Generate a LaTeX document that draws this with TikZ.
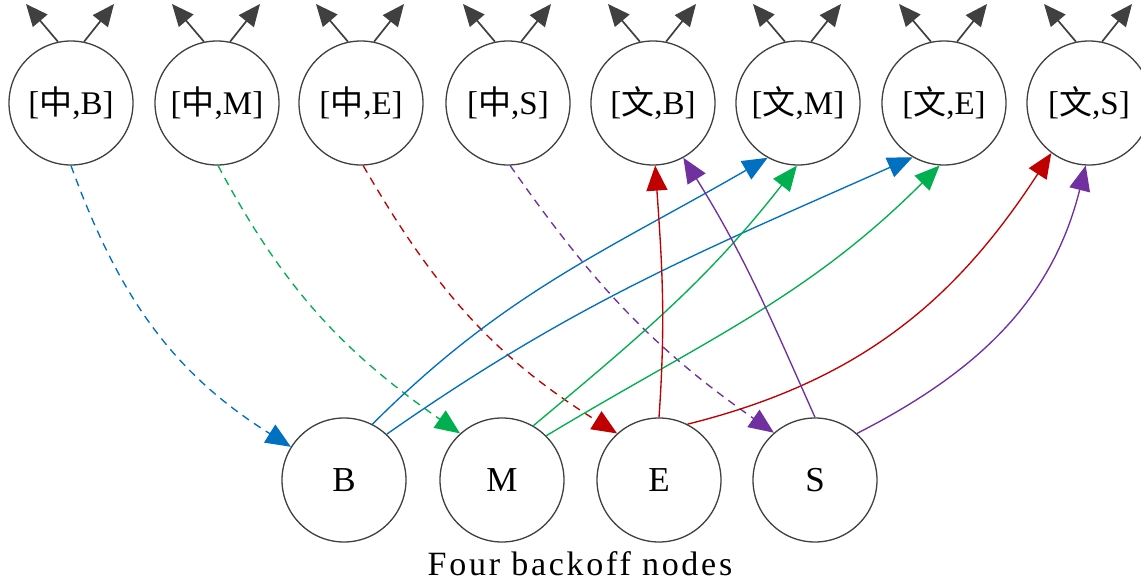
\documentclass[tikz,border=0pt]{standalone}
\usepackage{fontspec}
\setmainfont{Liberation Serif}
\newfontfamily\cjk{Noto Sans CJK SC}
\newfontfamily\capfont[LetterSpace=8]{Liberation Serif}
\usetikzlibrary{arrows.meta}
\definecolor{eblue}{HTML}{0070C0}
\definecolor{egreen}{HTML}{00B050}
\definecolor{ered}{HTML}{C00000}
\definecolor{epurple}{HTML}{7030A0}
\definecolor{outline}{HTML}{404040}
\tikzset{
  state/.style={circle, draw=outline, line width=1.3pt, minimum size=124pt, inner sep=0pt},
  toplbl/.style={font=\fontsize{33}{38}\selectfont},
  botlbl/.style={font=\fontsize{35}{40}\selectfont},
  outarrow/.style={draw=outline, line width=1.7pt, -{Triangle[length=22pt,width=19pt]}},
  edge/.style={line width=1.35pt, -{Triangle[length=25pt,width=21pt]}},
  dedge/.style={edge, dash pattern=on 8pt off 6pt},
}
\begin{document}
\begin{tikzpicture}[x=1pt,y=1pt]
\clip (0,0) rectangle (1141,587);
\fill[white] (0,0) rectangle (1141,587);
% top row
\node[state,toplbl] (t1) at (71,484) {[{\cjk 中},B]};
\node[state,toplbl] (t2) at (217,484) {[{\cjk 中},M]};
\node[state,toplbl] (t3) at (361,484) {[{\cjk 中},E]};
\node[state,toplbl] (t4) at (508,484) {[{\cjk 中},S]};
\node[state,toplbl] (t5) at (653,484) {[{\cjk 文},B]};
\node[state,toplbl] (t6) at (798,484) {[{\cjk 文},M]};
\node[state,toplbl] (t7) at (944,484) {[{\cjk 文},E]};
\node[state,toplbl] (t8) at (1089,484) {[{\cjk 文},S]};
% bottom row
\node[state,botlbl] (B) at (344,107) {B};
\node[state,botlbl] (M) at (502,107) {M};
\node[state,botlbl] (E) at (659,107) {E};
\node[state,botlbl] (S) at (815,107) {S};
\node[anchor=base, font=\fontsize{34}{38}\selectfont\capfont] (cap) at (580,12) {Four backoff nodes};
% outgoing arrows at top
\foreach \n/\cx in {t1/71,t2/217,t3/361,t4/508,t5/653,t6/798,t7/944,t8/1089}{
  \coordinate (\n l) at (\cx-45,583);
  \coordinate (\n r) at (\cx+43,583);
  \draw[outarrow] (\n.102) -- (\n l);
  \draw[outarrow] (\n.78) -- (\n r);
}
% dashed edges
\draw[dedge, eblue] (t1.-90) to[out=-70, in=148] (B.148);
\draw[dedge, egreen] (t2.-89) to[out=-62, in=145] (M.132);
\draw[dedge, ered] (t3.-88) to[out=-60, in=148] (E.132);
\draw[dedge, epurple] (t4.-88) to[out=-55, in=145] (S.131);
% solid edges
\draw[edge, eblue] (B.63) to[out=45, in=-150] (t6.241);
\draw[edge, eblue] (B.47) to[out=35, in=-156] (t7.240);
\draw[edge, egreen] (M.60) to[out=40, in=-128] (t6.-91);
\draw[edge, egreen] (M.45) to[out=31, in=-135] (t7.-94);
\draw[edge, ered] (E.90) to[out=86, in=-86] (t5.-88);
\draw[edge, ered] (E.63) to[out=14, in=-123] (t8.233);
\draw[edge, epurple] (S.90) to[out=114, in=-58] (t5.-61);
\draw[edge, epurple] (S.48) to[out=27, in=-104] (t8.-93);
\end{tikzpicture}
\end{document}
